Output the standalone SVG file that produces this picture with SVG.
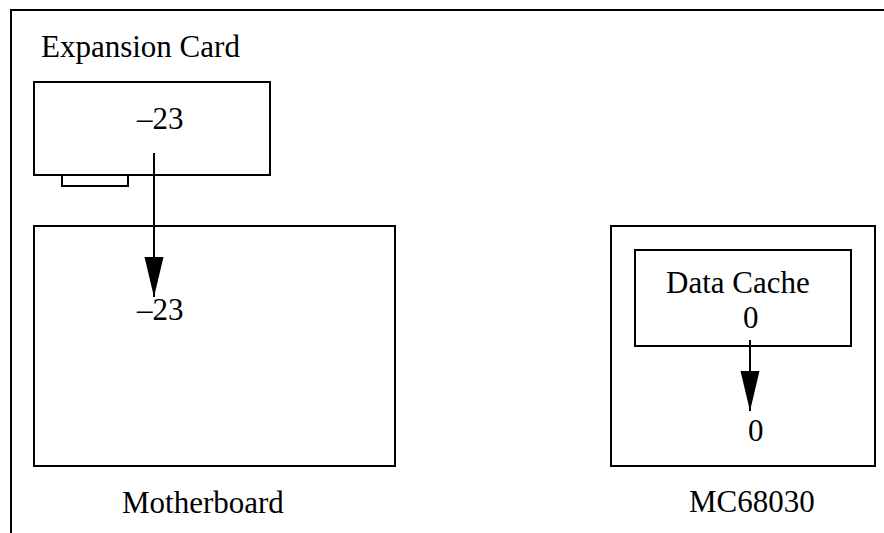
<svg xmlns="http://www.w3.org/2000/svg" width="884" height="533" viewBox="0 0 884 533">
  <defs>
    <style>
      .box { fill: none; stroke: #000; stroke-width: 2; }
      .lbl { font-family: "Liberation Serif", "Times New Roman", serif; font-size: 31px; fill: #000; }
      .wire { stroke: #000; stroke-width: 2; fill: none; }
    </style>
    <marker id="head" markerUnits="userSpaceOnUse" markerWidth="40" markerHeight="20" refX="40" refY="9.5" orient="auto">
      <path d="M0,0 L40,9.5 L0,19 Z" fill="#000"/>
    </marker>
  </defs>
  <rect width="884" height="533" fill="#fff"/>

  <!-- outer frame (open on right and bottom) -->
  <path class="box" d="M11,533 V10 H884"/>

  <g id="expansion-card">
    <text class="lbl" x="41" y="57">Expansion Card</text>
    <rect class="box" x="34" y="82" width="236" height="93"/>
    <rect class="box" x="62" y="175" width="66" height="11"/>
    <text class="lbl" x="137" y="129">–23</text>
  </g>

  <g id="motherboard">
    <rect class="box" x="34" y="226" width="361" height="240"/>
    <text class="lbl" x="137" y="320">–23</text>
    <text class="lbl" x="122" y="513">Motherboard</text>
  </g>

  <g id="mc68030">
    <rect class="box" x="611" y="226" width="264" height="240"/>
    <text class="lbl" x="689" y="512">MC68030</text>
  </g>

  <g id="data-cache">
    <rect class="box" x="635" y="250" width="216" height="96"/>
    <text class="lbl" x="666" y="293">Data Cache</text>
    <text class="lbl" x="743" y="328">0</text>
  </g>

  <g id="cpu-value">
    <text class="lbl" x="748" y="441">0</text>
  </g>

  <g id="connectors">
    <line class="wire" x1="154" y1="153" x2="154" y2="297" marker-end="url(#head)"/>
    <line class="wire" x1="750" y1="340" x2="750" y2="411" marker-end="url(#head)"/>
  </g>
</svg>
